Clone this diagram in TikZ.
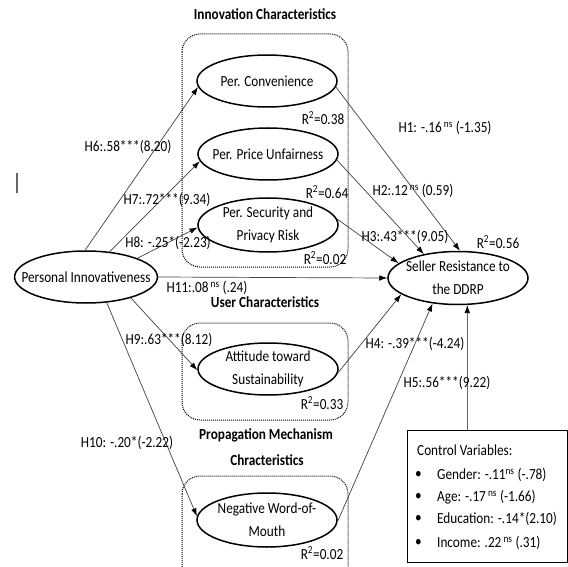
\documentclass[tikz,border=0pt]{standalone}
\usepackage{fontspec}
\setmainfont{Carlito}[FakeStretch=0.86]
\usetikzlibrary{shapes.geometric,arrows.meta}
\newcommand\myfs{\fontsize{15.4}{23}\selectfont}
\newcommand\myfsb{\fontsize{15.4}{25}\selectfont\bfseries}
\tikzset{
  ell/.style={ellipse, draw, line width=1.5pt, minimum width=140pt, minimum height=52pt, inner sep=-14pt, align=center, font=\myfs},
  grp/.style={draw, line width=1pt, dash pattern=on 1pt off 1pt, rounded corners=18pt},
  ttl/.style={font=\myfsb, inner sep=0pt},
  lab/.style={font=\myfs, inner sep=0pt},
  arr/.style={draw=black!75, line width=0.7pt, -{Latex[length=8pt,width=5.5pt,color=black,fill=black]}},
  ctrlbox/.style={draw, line width=0.8pt, minimum width=160pt, minimum height=132pt, inner sep=0pt},
  citem/.style={font=\myfs, inner sep=0pt, anchor=west}
}
\begin{document}
\begin{tikzpicture}[x=1pt,y=-1pt]
\useasboundingbox (0,0) rectangle (568,567);
\clip (0,0) rectangle (568,567);

% group boxes
\draw[grp] (182,34) rectangle (348,267);
\draw[grp] (182,323) rectangle (348,420);
\draw[grp] (182,476) rectangle (348,600);

% titles
\node[ttl] (t1) at (265,14) {Innovation Characteristics};
\node[ttl] (t2) at (265,302) {User Characteristics};
\node[ttl] (t3) at (266,435) {Propagation Mechanism};
\node[ttl] (t4) at (267,460) {Chracteristics};

% constructs
\node[ell, minimum width=141pt] (PI) at (86,277) {Personal Innovativeness};
\node[ell] (PC) at (267,81) {Per. Convenience};
\node[ell] (PPU) at (268,154) {Per. Price Unfairness};
\node[ell, minimum height=54pt] (PSR) at (268,225) {Per. Security and\\Privacy Risk};
\node[ell, minimum height=53pt] (SR) at (458,278) {Seller Resistance to\\the DDRP};
\node[ell] (ATS) at (268,369) {Attitude toward\\Sustainability};
\node[ell, minimum height=54pt] (NWOM) at (267,520) {Negative Word-of-\\Mouth};

% R squared
\node[lab] (r1) at (323,118) {R\textsuperscript{2}=0.38};
\node[lab] (r2) at (327,192) {R\textsuperscript{2}=0.64};
\node[lab] (r3) at (325,258) {R\textsuperscript{2}=0.02};
\node[lab] (r4) at (498,242) {R\textsuperscript{2}=0.56};
\node[lab] (r5) at (322,403) {R\textsuperscript{2}=0.33};
\node[lab] (r6) at (322,553) {R\textsuperscript{2}=0.02};

% control variables
\node[ctrlbox] (ctrl) at (487,496) {};
\node[citem] (c0) at (417,450) {Control Variables:};
\node[citem] (b1) at (415,475) {\textbullet};
\node[citem] (c1) at (437,475) {Gender: -.11\textsuperscript{ns} (-.78)};
\node[citem] (b2) at (415,497) {\textbullet};
\node[citem] (c2) at (437,497) {Age: -.17\textsuperscript{ ns} (-1.66)};
\node[citem] (b3) at (415,519) {\textbullet};
\node[citem] (c3) at (437,519) {Education: -.14*(2.10)};
\node[citem] (b4) at (415,543) {\textbullet};
\node[citem] (c4) at (437,543) {Income: .22\textsuperscript{ ns} (.31)};

% paths
\draw[arr] (PI.92) -- (PC.185);
\draw[arr] (PI.47) -- (PPU.186);
\draw[arr] (PI.20) -- (PSR.182);
\draw[arr] (PI.east) -- (SR.west);
\draw[arr] (PI.-25) -- (ATS.181);
\draw[arr] (PI.-51) -- (NWOM.177);
\draw[arr] (PC.-5) -- (SR.86);
\draw[arr] (PPU.-5) -- (SR.145);
\draw[arr] (PSR.5) -- (SR.166);
\draw[arr] (ATS.-3) -- (SR.196);
\draw[arr] (NWOM.-1) -- (SR.225);
\draw[arr, draw=black!60] (ctrl.north -| SR.-71) -- (SR.-71);

% path labels
\node[lab] (h6) at (128,147) {H6:.58***(8.20)};
\node[lab] (h7) at (167,200) {H7:.72***(9.34)};
\node[lab] (h8) at (168,243) {H8: -.25*(-2.23)};
\node[lab] (h11) at (207,288) {H11:.08\textsuperscript{ ns} (.24)};
\node[lab] (h9) at (169,340) {H9:.63***(8.12)};
\node[lab] (h10) at (127,443) {H10: -.20*(-2.22)};
\node[lab] (h1) at (445,128) {H1: -.16\textsuperscript{ ns} (-1.35)};
\node[lab] (h2) at (413,191) {H2:.12\textsuperscript{ ns} (0.59)};
\node[lab] (h3) at (405,237) {H3:.43***(9.05)};
\node[lab] (h4) at (415,344) {H4: -.39***(-4.24)};
\node[lab] (h5) at (447,383) {H5:.56***(9.22)};

% stray mark
\draw[black!60, line width=1.2pt] (17,173) -- (17,193);
\end{tikzpicture}
\end{document}
